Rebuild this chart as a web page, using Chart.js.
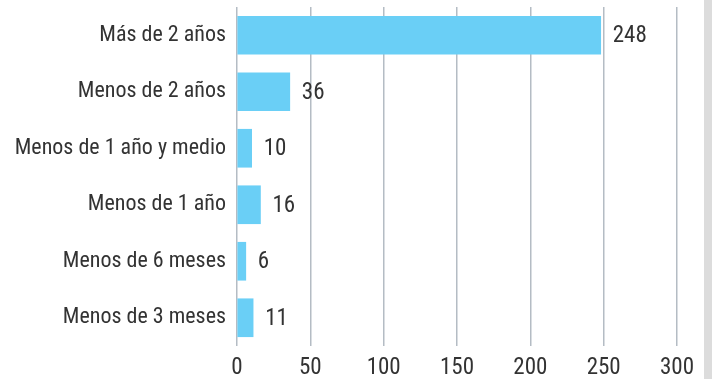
<!DOCTYPE html>
<html>
<head>
<meta charset="utf-8">
<script src="https://cdn.jsdelivr.net/npm/chart.js@4"></script>
<style>
  html, body { margin: 0; padding: 0; background: #fff; }
  #wrap { position: relative; width: 712px; height: 379px; }
  #edge { position: absolute; left: 704px; top: 0; width: 8px; height: 379px; background: #dcdcdc; }
</style>
</head>
<body>
<div id="wrap">
  <canvas id="chart" width="712" height="379"></canvas>
  <div id="edge"></div>
</div>
<script>
const categories = ["Más de 2 años", "Menos de 2 años", "Menos de 1 año y medio", "Menos de 1 año", "Menos de 6 meses", "Menos de 3 meses"];
const values = [248, 36, 10, 16, 6, 11];
const xMin = 0;
const xMax = 300;
const xStep = 50;

const FONT = "'Liberation Sans Narrow', 'Roboto Condensed', 'Liberation Sans', sans-serif";
const TEXT_COLOR = "#333333";

// draw the value next to each bar
const valueLabels = {
    id: "valueLabels",
    afterDatasetsDraw(chart) {
        const ctx = chart.ctx;
        const meta = chart.getDatasetMeta(0);
        ctx.save();
        ctx.font = "23px " + FONT;
        ctx.fillStyle = TEXT_COLOR;
        ctx.textAlign = "left";
        ctx.textBaseline = "middle";
        meta.data.forEach((bar, i) => {
            ctx.fillText(String(values[i]), bar.x + 12, bar.y + 1);
        });
        ctx.restore();
    }
};

new Chart(document.getElementById("chart").getContext("2d"), {
    type: "bar",
    data: {
        labels: categories,
        datasets: [{
            data: values,
            backgroundColor: "#6acff6",
            borderWidth: 0,
            barThickness: 38
        }]
    },
    options: {
        indexAxis: "y",
        responsive: false,
        animation: false,
        layout: { padding: { top: 7, right: 35, left: 0, bottom: 0 } },
        plugins: {
            legend: { display: false },
            tooltip: { enabled: false }
        },
        scales: {
            x: {
                min: xMin,
                max: xMax,
                ticks: {
                    stepSize: xStep,
                    color: TEXT_COLOR,
                    font: { family: FONT, size: 23 },
                    padding: 8
                },
                grid: { color: "#b4bcc4", lineWidth: 1.5, drawTicks: false },
                border: { display: false },
                afterFit(scale) { scale.height = 33; }
            },
            y: {
                ticks: {
                    color: TEXT_COLOR,
                    font: { family: FONT, size: 22 },
                    padding: 11
                },
                grid: { display: false, drawTicks: false },
                border: { display: false },
                afterFit(scale) {
                    scale.width = 237;
                    scale.paddingTop = 0;
                    scale.paddingBottom = 0;
                }
            }
        }
    },
    plugins: [valueLabels]
});
</script>
</body>
</html>
